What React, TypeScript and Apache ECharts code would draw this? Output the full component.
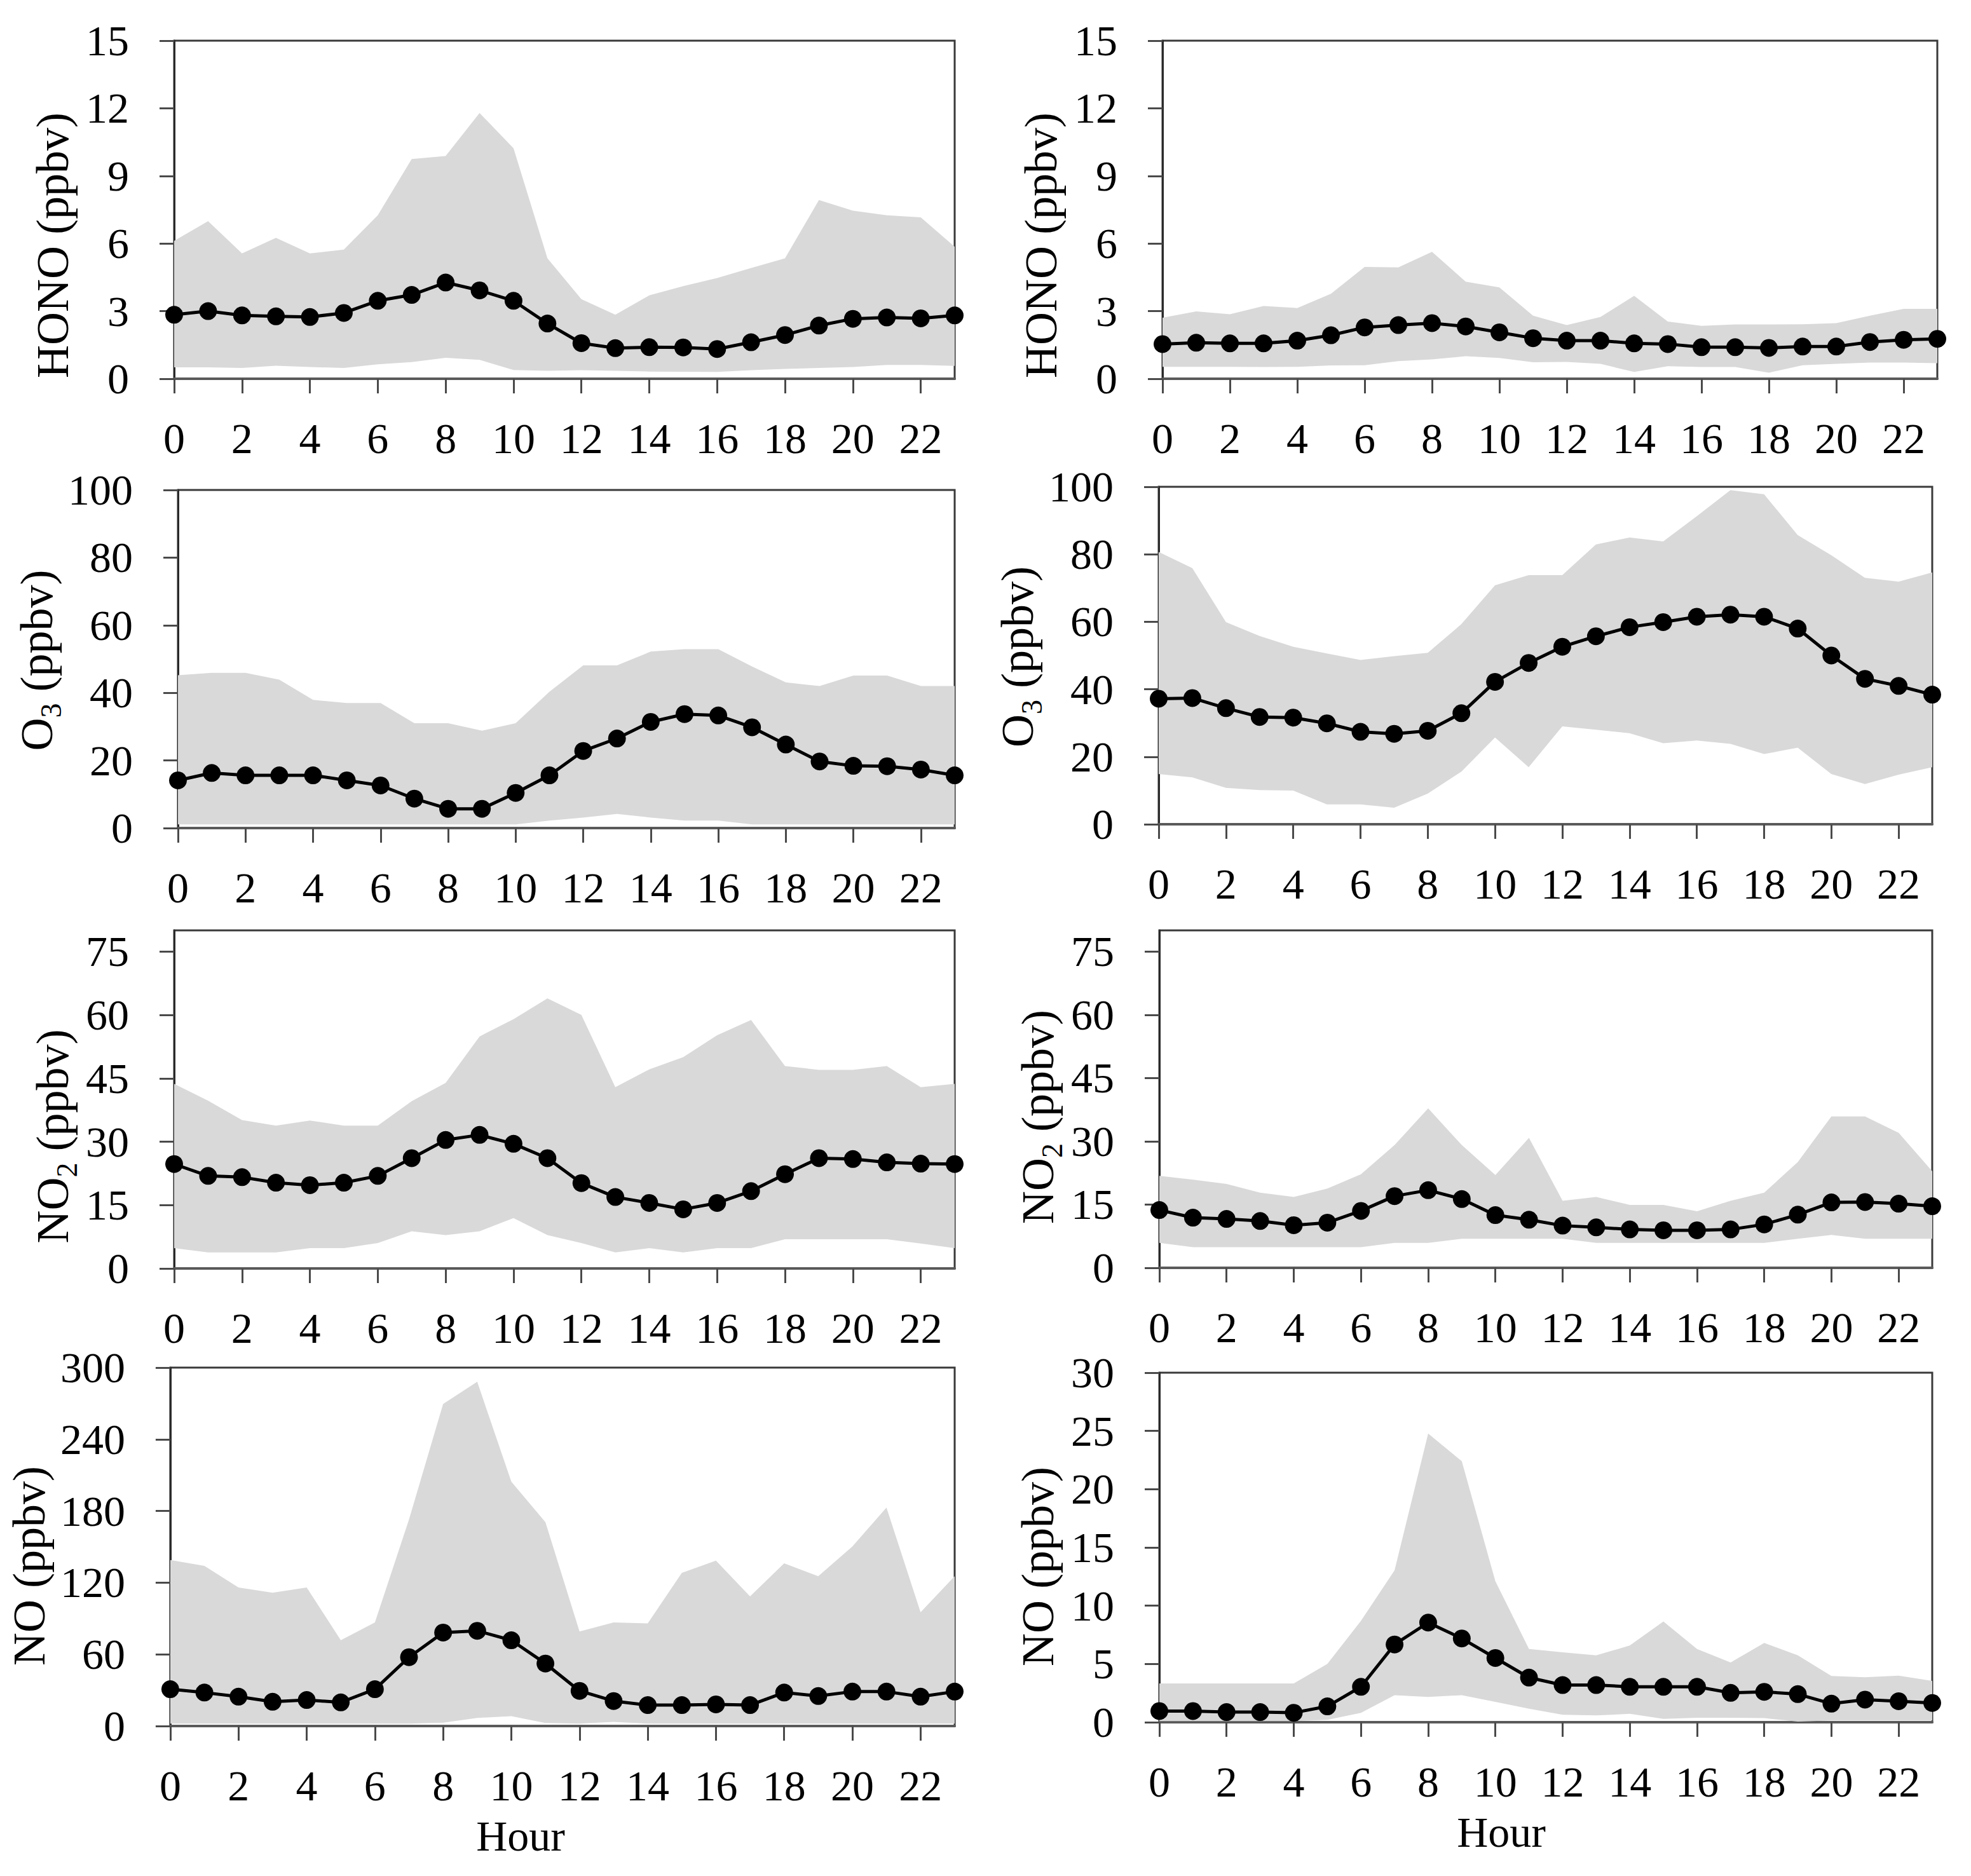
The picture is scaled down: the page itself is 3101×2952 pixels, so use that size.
import React, { useEffect, useRef } from "react";
import * as echarts from "echarts";

const hours = ["0","1","2","3","4","5","6","7","8","9","10","11","12","13","14","15","16","17","18","19","20","21","22","23"];

// HONO, left
const honoAMean = [2.84,3.0,2.81,2.77,2.74,2.92,3.46,3.72,4.27,3.92,3.46,2.45,1.58,1.36,1.40,1.39,1.32,1.62,1.94,2.36,2.66,2.72,2.68,2.81];
const honoAUpper = [6.12,6.99,5.56,6.25,5.56,5.73,7.25,9.75,9.88,11.79,10.23,5.34,3.53,2.84,3.70,4.11,4.47,4.91,5.34,7.93,7.46,7.25,7.16,5.86];
const honoALower = [0.51,0.51,0.48,0.58,0.52,0.48,0.64,0.74,0.93,0.84,0.39,0.35,0.38,0.35,0.32,0.31,0.30,0.38,0.44,0.48,0.52,0.61,0.61,0.57];
// HONO, right
const honoBMean = [1.54,1.60,1.57,1.57,1.69,1.93,2.28,2.38,2.47,2.32,2.06,1.80,1.69,1.69,1.57,1.54,1.40,1.40,1.37,1.43,1.43,1.63,1.73,1.77];
const honoBUpper = [2.71,2.99,2.86,3.23,3.14,3.77,4.96,4.94,5.63,4.31,4.05,2.80,2.38,2.74,3.68,2.54,2.35,2.41,2.41,2.42,2.47,2.80,3.10,3.10];
const honoBLower = [0.53,0.53,0.53,0.52,0.53,0.59,0.60,0.78,0.86,1.00,0.92,0.73,0.75,0.66,0.30,0.56,0.52,0.52,0.27,0.60,0.66,0.72,0.72,0.69];
// O3, left
const o3AMean = [14.1,16.3,15.6,15.6,15.6,14.1,12.6,8.7,5.7,5.7,10.4,15.6,22.8,26.5,31.4,33.7,33.3,29.8,24.7,19.7,18.4,18.3,17.3,15.6];
const o3AUpper = [45.2,45.9,45.9,43.9,37.9,37.0,37.0,31.0,31.0,28.8,31.0,40.3,48.1,48.1,52.2,52.9,52.9,47.8,43.1,42.0,45.1,45.1,42.0,42.0];
const o3ALower = [1.1,1.1,1.1,1.1,1.1,1.1,1.1,1.1,1.1,1.1,1.1,2.2,3.1,4.2,3.1,2.2,2.2,1.1,1.1,1.1,1.1,1.1,1.1,1.1];
// O3, right
const o3BMean = [37.2,37.4,34.4,31.8,31.6,29.9,27.4,26.8,27.7,32.9,42.2,47.8,52.6,55.7,58.4,59.9,61.5,62.1,61.5,58.0,50.0,43.1,41.0,38.4];
const o3BUpper = [80.7,75.9,59.9,55.8,52.6,50.6,48.7,49.8,50.8,59.3,70.8,73.8,73.8,82.9,85.0,83.8,91.3,99.0,97.8,85.7,79.7,73.0,71.9,74.6];
const o3BLower = [14.9,13.9,10.8,10.1,10.0,5.9,5.9,4.9,9.1,15.6,25.7,16.9,29.0,28.0,27.0,24.0,24.8,23.8,20.8,22.7,14.9,11.9,14.7,16.9];
// NO2, left
const no2AMean = [24.7,21.9,21.6,20.3,19.7,20.3,21.9,26.1,30.4,31.6,29.5,26.1,20.2,16.9,15.5,14.0,15.5,18.3,22.3,26.1,25.9,25.1,24.8,24.7];
const no2AUpper = [43.7,39.7,35.1,33.8,35.0,33.8,33.8,39.6,43.9,54.9,59.0,63.9,60.0,42.9,47.1,50.0,55.2,58.8,47.9,47.0,47.0,47.9,42.9,43.7];
const no2ALower = [4.8,3.8,3.8,3.8,4.8,4.8,6.0,8.8,7.9,8.8,11.9,7.9,6.0,3.8,4.8,3.8,4.8,4.8,6.9,6.9,6.9,6.9,5.9,4.8];
// NO2, right
const no2BMean = [13.7,11.9,11.6,11.1,10.1,10.7,13.5,17.0,18.4,16.3,12.5,11.4,10.0,9.6,9.1,8.9,8.9,9.1,10.3,12.6,15.5,15.6,15.2,14.6];
const no2BUpper = [21.8,20.9,19.9,17.8,16.8,18.8,22.2,29.1,37.8,29.1,22.0,30.8,15.9,16.8,14.9,14.9,13.4,15.9,17.8,25.1,35.9,35.9,32.0,22.9];
const no2BLower = [5.9,4.9,4.9,4.9,4.9,4.9,4.9,5.9,5.9,6.9,6.9,6.9,6.9,5.9,5.9,5.9,5.9,5.9,5.9,6.9,7.8,6.9,6.9,6.9];
// NO, left
const noAMean = [30.8,28.0,24.6,20.3,21.8,19.8,30.8,57.6,78.2,79.7,71.8,52.3,29.4,20.9,17.5,17.5,18.1,17.5,28.0,25.1,28.8,28.8,24.6,28.8];
const noAUpper = [139,134,116,111.6,116,71.8,86.7,172.9,269.5,288.1,204.5,170.6,79.1,86.7,85.9,128.2,138.4,108.5,136.2,125.4,150.3,182.8,95.2,125.4];
const noALower = [2,2,2,2,2,2,2,2,2.8,6.8,8.2,2.5,2,3.4,2,2,2,2,2,2,2,2,2,2];
// NO, right
const noBMean = [0.96,0.96,0.87,0.87,0.81,1.36,3.04,6.67,8.55,7.19,5.51,3.83,3.19,3.19,3.04,3.04,3.04,2.52,2.61,2.41,1.59,1.94,1.80,1.65];
const noBUpper = [3.33,3.33,3.33,3.33,3.33,5.01,8.70,13.04,24.78,22.4,12.1,6.29,6.0,5.74,6.58,8.64,6.29,5.13,6.81,5.74,3.97,3.86,4.0,3.54];
const noBLower = [0.1,0.1,0.1,0.1,0.1,0.2,0.81,2.32,2.17,2.32,1.74,1.16,0.64,0.58,0.72,0.29,0.38,0.38,0.35,0.06,0.15,0.15,0.15,0.15];

// y-axis tick values
const honoTicks = [0, 3, 6, 9, 12, 15];
const o3Ticks = [0, 20, 40, 60, 80, 100];
const no2Ticks = [0, 15, 30, 45, 60, 75];
const noATicks = [0, 60, 120, 180, 240, 300];
const noBTicks = [0, 5, 10, 15, 20, 25, 30];

const FONT = '"Liberation Serif", "Times New Roman", serif';

// box: [left, top, width, height]; shift: how far the y title sits below the plot centre
const panels = [
  { mean: honoAMean, upper: honoAUpper, lower: honoALower, ticks: honoTicks, max: 15, name: "HONO (ppbv)", box: [274, 64, 1228, 532], shift: 56 },
  { mean: honoBMean, upper: honoBUpper, lower: honoBLower, ticks: honoTicks, max: 15, name: "HONO (ppbv)", box: [1829, 64, 1219, 532], shift: 56 },
  { mean: o3AMean, upper: o3AUpper, lower: o3ALower, ticks: o3Ticks, max: 100, name: "O{s|3} (ppbv)", box: [280, 771, 1222, 532], shift: 2 },
  { mean: o3BMean, upper: o3BUpper, lower: o3BLower, ticks: o3Ticks, max: 100, name: "O{s|3} (ppbv)", box: [1823, 766, 1217, 531], shift: 2 },
  { mean: no2AMean, upper: no2AUpper, lower: no2ALower, ticks: no2Ticks, max: 80, name: "NO{s|2} (ppbv)", box: [274, 1464, 1228, 532], shift: 58 },
  { mean: no2BMean, upper: no2BUpper, lower: no2BLower, ticks: no2Ticks, max: 80, name: "NO{s|2} (ppbv)", box: [1824, 1464, 1216, 531], shift: 28 },
  { mean: noAMean, upper: noAUpper, lower: noALower, ticks: noATicks, max: 300, name: "NO (ppbv)", box: [267, 2152, 1235, 564], shift: 30 },
  { mean: noBMean, upper: noBUpper, lower: noBLower, ticks: noBTicks, max: 30, name: "NO (ppbv)", box: [1824, 2160, 1216, 550], shift: 30 },
];

function buildOption() {
  const grid = panels.map((p) => ({
    left: p.box[0],
    top: p.box[1],
    width: p.box[2],
    height: p.box[3],
    show: true,
    borderColor: "#3a3a3a",
    borderWidth: 3,
    backgroundColor: "transparent",
  }));
  const xAxis = panels.map((p, i) => ({
    type: "category",
    gridIndex: i,
    data: hours,
    boundaryGap: false,
    axisLine: { show: true, lineStyle: { color: "#5a5a5a", width: 4 } },
    axisTick: { show: true, interval: 1, length: 23, lineStyle: { color: "#4a4a4a", width: 3 } },
    axisLabel: { interval: 1, margin: 60, fontSize: 68, fontFamily: FONT, color: "#000" },
    splitLine: { show: false },
  }));
  const yAxis = panels.map((p, i) => ({
    type: "value",
    gridIndex: i,
    min: 0,
    max: p.max,
    interval: p.ticks[1] - p.ticks[0],
    axisLine: { show: true, lineStyle: { color: "#2a2a2a", width: 3 } },
    axisTick: { show: true, length: 23, customValues: p.ticks, lineStyle: { color: "#4a4a4a", width: 3 } },
    axisLabel: { margin: 71, fontSize: 68, fontFamily: FONT, color: "#000", customValues: p.ticks },
    splitLine: { show: false },
    name: p.name,
    nameLocation: "middle",
    nameRotate: 90,
    nameGap: 146,
    nameTextStyle: {
      fontSize: 72,
      fontFamily: FONT,
      color: "#000",
      lineHeight: 90,
      padding: [0, 2 * p.shift, 0, 0],
      rich: {
        s: { fontSize: 46, fontFamily: FONT, color: "#000", lineHeight: 90, verticalAlign: "bottom" },
      },
    },
  }));
  const series: any[] = [];
  panels.forEach((p, i) => {
    series.push({
      type: "line",
      xAxisIndex: i,
      yAxisIndex: i,
      stack: "band" + i,
      data: p.lower,
      symbol: "none",
      lineStyle: { opacity: 0 },
      silent: true,
      z: 1,
    });
    series.push({
      type: "line",
      xAxisIndex: i,
      yAxisIndex: i,
      stack: "band" + i,
      data: p.upper.map((u, k) => +(u - p.lower[k]).toFixed(3)),
      symbol: "none",
      lineStyle: { opacity: 0 },
      areaStyle: { color: "#d9d9d9", opacity: 1 },
      silent: true,
      z: 1,
    });
    series.push({
      type: "line",
      xAxisIndex: i,
      yAxisIndex: i,
      data: p.mean,
      symbol: "circle",
      symbolSize: 28,
      showSymbol: true,
      lineStyle: { color: "#000", width: 5 },
      itemStyle: { color: "#000" },
      z: 5,
    });
  });
  const graphic = [
    { type: "text", x: 819, y: 2889, style: { text: "Hour", font: `68px ${FONT}`, fill: "#000", align: "center", verticalAlign: "middle" } },
    { type: "text", x: 2362, y: 2883, style: { text: "Hour", font: `68px ${FONT}`, fill: "#000", align: "center", verticalAlign: "middle" } },
  ];
  return {
    animation: false,
    backgroundColor: "#fff",
    grid,
    xAxis,
    yAxis,
    series,
    graphic,
  };
}

export default function App() {
  const ref = useRef<HTMLDivElement>(null);
  useEffect(() => {
    document.body.style.margin = "0";
    if (!ref.current) return;
    const chart = echarts.init(ref.current, undefined, { renderer: "svg" });
    chart.setOption(buildOption() as any);
    return () => chart.dispose();
  }, []);
  return <div ref={ref} style={{ width: 3101, height: 2952 }} />;
}
